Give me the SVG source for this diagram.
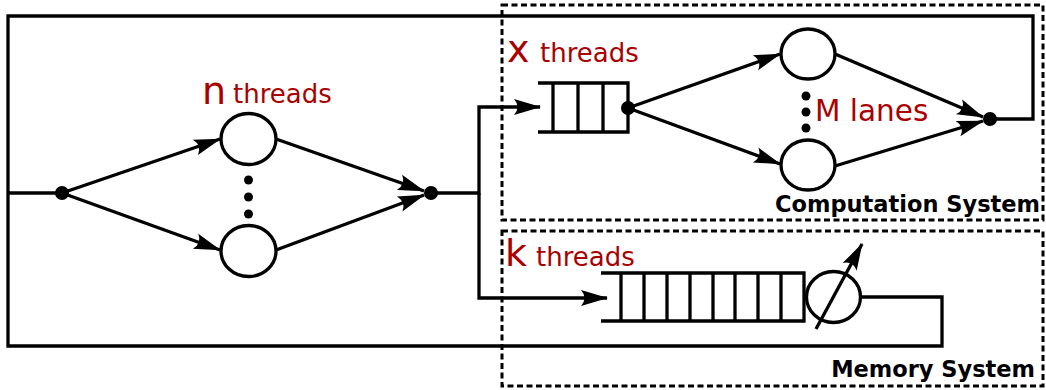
<svg xmlns="http://www.w3.org/2000/svg" width="1046" height="390" viewBox="0 0 1046 390">
<style>
.ln{fill:none;stroke:#000;stroke-width:3.3}
.nd{fill:#fff;stroke:#000;stroke-width:3.3}
.dot{fill:#000}
.box{fill:none;stroke:#000;stroke-width:3;stroke-dasharray:6 3.5}
.lbl{font-family:"DejaVu Sans",sans-serif;fill:#aa0000}
.big{font-size:38px}
.sm{font-size:26px}
.sys{font-family:"DejaVu Sans",sans-serif;font-weight:bold;font-size:22.5px;fill:#000;text-anchor:end}
</style>
<defs>
<marker id="arr" markerUnits="userSpaceOnUse" markerWidth="30" markerHeight="20" viewBox="-28 -10 30 20" refX="0" refY="0" orient="auto">
<path d="M1,0 L-26,-8 Q-19,0 -26,8 Z" fill="#000"/>
</marker>
</defs>
<rect width="1046" height="390" fill="#fff"/>
<g id="computation-system">
<rect class="box" x="502" y="5" width="541" height="215"/>
<text class="sys" x="1040" y="212">Computation System</text>
</g>
<g id="memory-system">
<rect class="box" x="502" y="231" width="541" height="155"/>
<text class="sys" x="1035" y="377">Memory System</text>
</g>
<g id="connectors">
<polyline class="ln" points="990,119 1033,119 1033,16 8,16 8,346 942,346 942,297 861,297"/>
<line class="ln" x1="8" y1="193" x2="62" y2="193"/>
<line class="ln" x1="62" y1="193" x2="220" y2="139" marker-end="url(#arr)"/>
<line class="ln" x1="62" y1="193" x2="220" y2="250" marker-end="url(#arr)"/>
<line class="ln" x1="276" y1="139" x2="424" y2="191" marker-end="url(#arr)"/>
<line class="ln" x1="276" y1="250" x2="424" y2="195" marker-end="url(#arr)"/>
<polyline class="ln" points="431,193 479,193 479,107 540,107" marker-end="url(#arr)"/>
<polyline class="ln" points="479,193 479,298 607,298" marker-end="url(#arr)"/>
<line class="ln" x1="628" y1="108" x2="780" y2="54" marker-end="url(#arr)"/>
<line class="ln" x1="628" y1="108" x2="780" y2="164" marker-end="url(#arr)"/>
<line class="ln" x1="835" y1="54" x2="983" y2="117" marker-end="url(#arr)"/>
<line class="ln" x1="835" y1="166" x2="983" y2="121" marker-end="url(#arr)"/>
</g>
<g id="fork-n">
<circle class="dot" cx="62" cy="193" r="7"/>
</g>
<g id="n-threads">
<ellipse class="nd" cx="248.5" cy="139" rx="27.5" ry="25.5"/>
<ellipse class="nd" cx="248.5" cy="251" rx="27.5" ry="25.5"/>
<circle class="dot" cx="248.5" cy="180" r="4.5"/>
<circle class="dot" cx="248.5" cy="197" r="4.5"/>
<circle class="dot" cx="248.5" cy="214" r="4.5"/>
<text class="lbl" x="202" y="104"><tspan class="big">n</tspan><tspan class="sm" x="233" y="103">threads</tspan></text>
</g>
<g id="join-n">
<circle class="dot" cx="431" cy="193" r="7"/>
</g>
<g id="x-queue">
<polyline class="ln" points="538,83 628,83 628,132 538,132"/>
<line class="ln" x1="553" y1="83" x2="553" y2="132"/>
<line class="ln" x1="578" y1="83" x2="578" y2="132"/>
<line class="ln" x1="603" y1="83" x2="603" y2="132"/>
<circle class="dot" cx="628" cy="108" r="7"/>
<text class="lbl" x="507" y="62"><tspan class="big">x</tspan><tspan class="sm" x="540" y="62">threads</tspan></text>
</g>
<g id="m-lanes">
<ellipse class="nd" cx="808" cy="54" rx="27" ry="25"/>
<ellipse class="nd" cx="808" cy="165" rx="27" ry="25"/>
<circle class="dot" cx="806" cy="96" r="4.5"/>
<circle class="dot" cx="806" cy="112" r="4.5"/>
<circle class="dot" cx="806" cy="128" r="4.5"/>
<text class="lbl" x="815" y="121" style="font-size:29.5px">M lanes</text>
</g>
<g id="join-m">
<circle class="dot" cx="990" cy="119" r="7"/>
</g>
<g id="k-queue">
<polyline class="ln" points="601,273 804,273 804,321 601,321"/>
<path class="ln" d="M621,273V321M644,273V321M667,273V321M690,273V321M713,273V321M735,273V321M758,273V321M781,273V321"/>
<text class="lbl" x="505" y="266"><tspan class="big">k</tspan><tspan class="sm" x="536" y="266">threads</tspan></text>
</g>
<g id="memory-server">
<ellipse class="nd" cx="833.5" cy="297" rx="27" ry="25.5"/>
<line class="ln" x1="816" y1="329" x2="862" y2="244" marker-end="url(#arr)"/>
</g>
</svg>
